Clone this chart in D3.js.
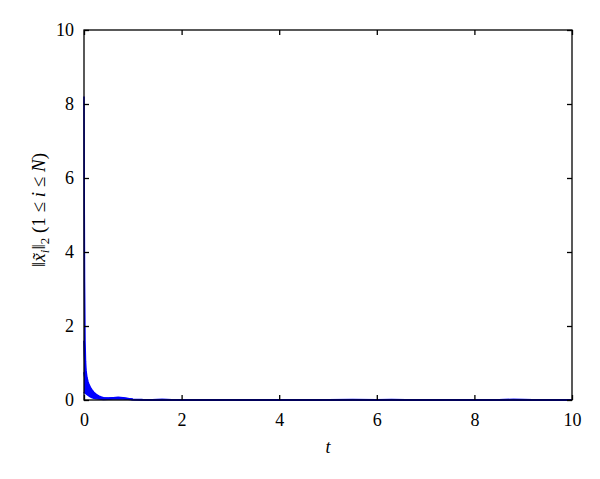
<!DOCTYPE html>
<html><head><meta charset="utf-8">
<script src="https://cdn.jsdelivr.net/npm/d3@7"></script>
<style>body{margin:0;background:#fff}svg{display:block}</style>
</head><body>
<svg id="c" width="600" height="479"></svg>
<script>
const tValues = [0, 0.005, 0.01, 0.02, 0.03, 0.04, 0.06, 0.08, 0.1, 0.13, 0.16, 0.2, 0.25, 0.3, 0.35, 0.4, 0.5, 0.6, 0.7, 0.8, 0.9, 1.0, 1.2, 1.4, 1.6, 1.8, 2, 2.5, 3, 3.5, 4, 4.5, 5, 5.5, 6, 6.3, 6.6, 7, 7.5, 8, 8.5, 8.8, 9.2, 9.6, 10];
const agent1 = [8.2, 5.0, 3.2, 1.6, 1.05, 0.8, 0.6, 0.5, 0.42, 0.34, 0.28, 0.21, 0.15, 0.11, 0.08, 0.06, 0.05, 0.06, 0.07, 0.06, 0.04, 0.02, 0.01, 0.008, 0.015, 0.008, 0.005, 0.004, 0.006, 0.004, 0.005, 0.004, 0.006, 0.01, 0.005, 0.01, 0.005, 0.004, 0.006, 0.004, 0.006, 0.012, 0.005, 0.004, 0.004];
const agent2 = [1.6, 1.4, 1.2, 0.95, 0.8, 0.68, 0.52, 0.42, 0.35, 0.28, 0.22, 0.17, 0.12, 0.09, 0.07, 0.05, 0.045, 0.055, 0.06, 0.05, 0.03, 0.015, 0.008, 0.006, 0.01, 0.006, 0.004, 0.003, 0.005, 0.003, 0.004, 0.003, 0.005, 0.008, 0.004, 0.008, 0.004, 0.003, 0.005, 0.003, 0.005, 0.01, 0.004, 0.003, 0.003];
const agent3 = [0.75, 0.7, 0.65, 0.58, 0.52, 0.47, 0.4, 0.34, 0.29, 0.23, 0.18, 0.13, 0.09, 0.07, 0.05, 0.04, 0.035, 0.045, 0.05, 0.04, 0.025, 0.012, 0.006, 0.004, 0.008, 0.004, 0.003, 0.002, 0.004, 0.002, 0.003, 0.002, 0.004, 0.006, 0.003, 0.006, 0.003, 0.002, 0.004, 0.002, 0.004, 0.008, 0.003, 0.002, 0.002];
const agent4 = [0.22, 0.21, 0.2, 0.19, 0.18, 0.17, 0.15, 0.13, 0.11, 0.09, 0.07, 0.05, 0.035, 0.025, 0.02, 0.018, 0.02, 0.03, 0.035, 0.03, 0.02, 0.01, 0.005, 0.003, 0.006, 0.003, 0.002, 0.002, 0.003, 0.002, 0.002, 0.002, 0.003, 0.005, 0.002, 0.005, 0.002, 0.002, 0.003, 0.002, 0.003, 0.006, 0.002, 0.002, 0.002];
const agentSeries = [agent1, agent2, agent3, agent4];
const xTicks = [0, 2, 4, 6, 8, 10];
const yTicks = [0, 2, 4, 6, 8, 10];

const svg = d3.select("#c");
const L = 84, R = 572, T = 30, B = 400;
const x = d3.scaleLinear().domain([0, 10]).range([L, R]);
const y = d3.scaleLinear().domain([0, 10]).range([B, T]);

const font = "'Liberation Serif', 'DejaVu Serif', serif";

const line = d3.line().x((d, i) => x(tValues[i])).y(d => y(d));
const area = d3.area().x((d, i) => x(tValues[i])).y0((d, i) => y(agent4[i])).y1(d => y(d));
svg.append("path").datum(agent1).attr("d", area).attr("fill", "#0000ff").attr("stroke", "none");
svg.selectAll("path.ag").data(agentSeries).enter().append("path")
  .attr("class", "ag").attr("d", line).attr("fill", "none")
  .attr("stroke", "#0000ff").attr("stroke-width", 1.6);

svg.append("rect").attr("x", L).attr("y", T).attr("width", R - L).attr("height", B - T)
  .attr("fill", "none").attr("stroke", "#000").attr("stroke-width", 1.3);

const ax = svg.append("g").attr("transform", `translate(0,${B})`)
  .call(d3.axisBottom(x).tickValues(xTicks).tickFormat(d3.format("d")).tickSizeInner(-5).tickSizeOuter(0).tickPadding(10));
const axT = svg.append("g").attr("transform", `translate(0,${T})`)
  .call(d3.axisTop(x).tickValues(xTicks).tickFormat("").tickSizeInner(-5).tickSizeOuter(0));
const ay = svg.append("g").attr("transform", `translate(${L},0)`)
  .call(d3.axisLeft(y).tickValues(yTicks).tickFormat(d3.format("d")).tickSizeInner(-5).tickSizeOuter(0).tickPadding(10));
const ayR = svg.append("g").attr("transform", `translate(${R},0)`)
  .call(d3.axisRight(y).tickValues(yTicks).tickFormat("").tickSizeInner(-5).tickSizeOuter(0));
[ax, axT, ay, ayR].forEach(g => {
  g.select(".domain").remove();
  g.selectAll("line").attr("stroke", "#000").attr("stroke-width", 1.3);
  g.selectAll("text").attr("font-family", font).attr("font-size", 18).attr("fill", "#000");
});
ax.selectAll("text").attr("dy", "0.9em");

svg.append("text").attr("x", (L + R) / 2).attr("y", 453).attr("text-anchor", "middle")
  .attr("font-family", font).attr("font-size", 18).attr("font-style", "italic").text("t");

const yl = svg.append("text").attr("transform", `translate(45,210) rotate(-90)`)
  .attr("text-anchor", "middle").attr("font-family", font).attr("font-size", 19);
yl.append("tspan").text("‖");
yl.append("tspan").attr("font-style", "italic").text("x̃");
yl.append("tspan").attr("font-style", "italic").attr("font-size", 13).attr("dy", 4).text("i");
yl.append("tspan").attr("dy", -4).text("‖");
yl.append("tspan").attr("font-size", 13).attr("dy", 4).text("2");
yl.append("tspan").attr("dy", -4).text(" (1 ≤ ");
yl.append("tspan").attr("font-style", "italic").text("i");
yl.append("tspan").text(" ≤ ");
yl.append("tspan").attr("font-style", "italic").text("N");
yl.append("tspan").text(")");
</script>
</body></html>
